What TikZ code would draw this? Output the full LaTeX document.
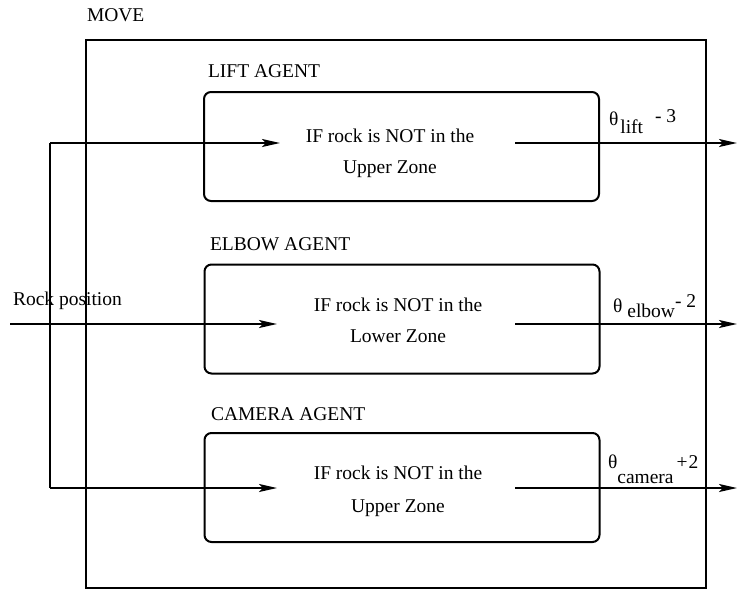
\documentclass[tikz,border=0pt]{standalone}
\usepackage{fontspec}
\setmainfont{Liberation Serif}
\usetikzlibrary{arrows.meta}

\begin{document}
\begin{tikzpicture}[x=1pt, y=-1pt, line width=2pt,
    >={Stealth[length=18pt,width=8pt,inset=4pt]},
    font=\fontsize{19.5}{24}\selectfont,
    agent/.style={draw, rounded corners=7pt, minimum width=395pt,
        minimum height=109pt, inner sep=0pt},
    rule/.style={align=center, inner sep=0pt},
    title/.style={anchor=base west, inner sep=0pt}]
    \useasboundingbox (0,0) rectangle (737,590);

    % MOVE frame
    \node[draw, minimum width=620pt, minimum height=548pt, inner sep=0pt] (move) at (396,314) {};
    \node[title] (move label) at (86,21) {MOVE};

    % the three agents
    \node[title] (lift label) at (207,77) {LIFT AGENT};
    \node[agent] (lift) at (401.5,146.5) {};
    \node[rule] (lift rule) at (390,153) {IF rock is NOT in the\\[7pt]Upper Zone};
    \node[title] (elbow label) at (209,250) {ELBOW AGENT};
    \node[agent] (elbow) at (402,319) {};
    \node[rule] (elbow rule) at (398,320) {IF rock is NOT in the\\[7pt]Lower Zone};
    \node[title] (camera label) at (210,420) {CAMERA AGENT};
    \node[agent] (camera) at (402,487.5) {};
    \node[rule] (camera rule) at (398,491) {IF rock is NOT in the\\[9pt]Upper Zone};

    % input: rock position, split to every agent
    \node[title] (rock label) at (12,305) {Rock position};
    \coordinate (rock) at (10,324);
    \coordinate (fork top) at (50,143);
    \coordinate (fork bottom) at (50,488);
    \coordinate (lift in) at (280,143);
    \coordinate (elbow in) at (277,324);
    \coordinate (camera in) at (277,488);
    \draw (fork top) -- (fork bottom);
    \draw[->] (fork top) -- (lift in);
    \draw[->] (rock) -- (elbow in);
    \draw[->] (fork bottom) -- (camera in);

    % outputs
    \coordinate (lift out) at (515,143);
    \coordinate (lift end) at (737,143);
    \coordinate (elbow out) at (515,324);
    \coordinate (elbow end) at (737,324);
    \coordinate (camera out) at (515,488);
    \coordinate (camera end) at (737,488);
    \draw[->] (lift out) -- (lift end);
    \draw[->] (elbow out) -- (elbow end);
    \draw[->] (camera out) -- (camera end);

    \node[title] (lift angle) at (608,125) {θ\hspace{2pt}\raisebox{-8pt}{lift}\hspace{12pt}\raisebox{3pt}{- 3}};
    \node[title] (elbow angle) at (612,312) {θ\hspace{5pt}\raisebox{-5pt}{elbow}\raisebox{5pt}{- 2}};
    \node[title] (camera angle) at (607,468) {θ\raisebox{-15pt}{camera}\hspace{3pt}+\hspace{1pt}2};
\end{tikzpicture}
\end{document}
